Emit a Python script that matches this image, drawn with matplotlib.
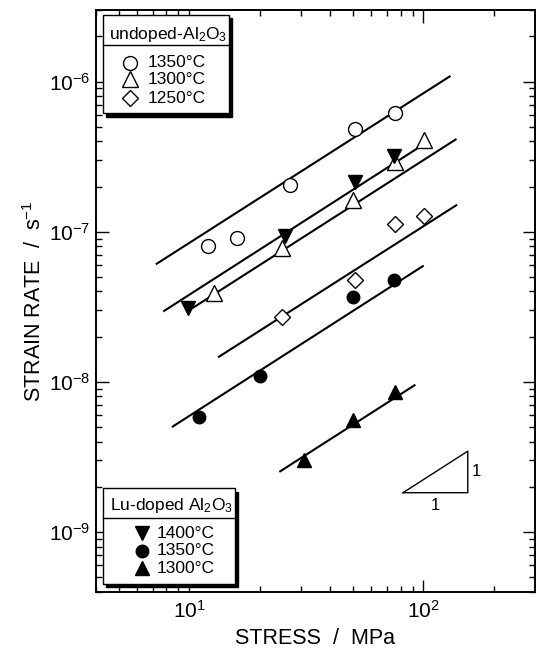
import numpy as np
import matplotlib.pyplot as plt
from matplotlib.patches import Rectangle
from matplotlib.ticker import NullFormatter

plt.rcParams['font.family'] = ['Liberation Sans', 'DejaVu Sans']
plt.rcParams['mathtext.fontset'] = 'custom'
plt.rcParams['mathtext.rm'] = 'Liberation Sans'
plt.rcParams['mathtext.it'] = 'Liberation Sans:italic'
plt.rcParams['mathtext.bf'] = 'Liberation Sans:bold'

# undoped Al2O3 (stress in MPa, strain rate in 1/s)
undoped_1350_stress = [12, 16, 27, 51, 76]
undoped_1350_rate = [8.0e-8, 9.1e-8, 2.05e-7, 4.8e-7, 6.2e-7]
undoped_1300_stress = [12.8, 25, 50, 76, 101]
undoped_1300_rate = [3.9e-8, 7.8e-8, 1.62e-7, 2.9e-7, 4.1e-7]
undoped_1250_stress = [25, 51, 76, 101]
undoped_1250_rate = [2.7e-8, 4.75e-8, 1.13e-7, 1.28e-7]

# Lu-doped Al2O3
lu_1400_stress = [9.9, 25.7, 51, 75]
lu_1400_rate = [3.1e-8, 9.3e-8, 2.15e-7, 3.2e-7]
lu_1350_stress = [11, 20, 50, 75]
lu_1350_rate = [5.85e-9, 1.1e-8, 3.7e-8, 4.75e-8]
lu_1300_stress = [31, 50, 75.6]
lu_1300_rate = [3.0e-9, 5.6e-9, 8.6e-9]

# fitted lines with stress exponent n = 1 (end points)
fit_stress = [[7.27, 129.6], [7.82, 95.5], [10.4, 137.5],
              [13.4, 138.4], [8.52, 99.6], [24.5, 91.8]]
fit_rate = [[6.12e-8, 1.08e-6], [2.97e-8, 3.63e-7], [3.12e-8, 4.11e-7],
            [1.47e-8, 1.50e-7], [5.05e-9, 5.9e-8], [2.54e-9, 9.5e-9]]

# slope triangle
tri_stress = [82, 155]
tri_rate = [1.83e-9, 3.46e-9]

fig = plt.figure(figsize=(5.36, 6.49), dpi=100)
ax = fig.add_axes([0.179, 0.088, 0.819, 0.8968])
ax.set_xscale('log')
ax.set_yscale('log')
ax.set_xlim(4, 300)
ax.set_ylim(4e-10, 3e-6)
ax.xaxis.set_minor_formatter(NullFormatter())
ax.yaxis.set_minor_formatter(NullFormatter())

for xs, ys in zip(fit_stress, fit_rate):
    ax.plot(xs, ys, color='black', lw=1.5, zorder=2)

open_kw = dict(ls='none', mfc='white', mec='black', mew=1.0, zorder=3)
fill_kw = dict(ls='none', mfc='black', mec='black', mew=1.0, zorder=3)
ax.plot(undoped_1350_stress, undoped_1350_rate, 'o', ms=10, **open_kw)
ax.plot(undoped_1300_stress, undoped_1300_rate, '^', ms=11.5, **open_kw)
ax.plot(undoped_1250_stress, undoped_1250_rate, 'D', ms=8.5, **open_kw)
ax.plot(lu_1400_stress, lu_1400_rate, 'v', ms=10.5, **fill_kw)
ax.plot(lu_1350_stress, lu_1350_rate, 'o', ms=9, **fill_kw)
ax.plot(lu_1300_stress, lu_1300_rate, '^', ms=10.5, **fill_kw)

# 1:1 slope triangle
ax.plot([tri_stress[0], tri_stress[1], tri_stress[1], tri_stress[0]],
        [tri_rate[0], tri_rate[0], tri_rate[1], tri_rate[0]],
        color='black', lw=1.0)
ax.annotate('1', (tri_stress[1], np.sqrt(tri_rate[0] * tri_rate[1])),
            xytext=(3, 0), textcoords='offset points', ha='left', va='center', fontsize=12)
ax.annotate('1', (np.sqrt(tri_stress[0] * tri_stress[1]), tri_rate[0]),
            xytext=(0, -4), textcoords='offset points', ha='center', va='top', fontsize=12)

ax.tick_params(which='both', direction='in', top=True, right=True, width=1.0)
ax.tick_params(which='major', length=9, labelsize=15, pad=4)
ax.tick_params(which='minor', length=4.5)
ax.tick_params(axis='x', which='major', pad=6)
for sp in ax.spines.values():
    sp.set_linewidth(1.4)

ax.set_xlabel('STRESS  /  MPa', fontsize=15.5, labelpad=4)
ax.set_ylabel(r'STRAIN RATE  /  s$^{-1}$', fontsize=15.5, labelpad=2)


def legend_box(x0, y0, x1, y1, ysep, title, tx, ty, keys, kx, lx, rows):
    # framed key with a title row and a dark drop shadow
    tr = ax.transAxes
    ax.add_patch(Rectangle((x0 + 0.007, y0 - 0.006), x1 - x0, y1 - y0, transform=tr,
                           facecolor='black', edgecolor='black', zorder=5, clip_on=False))
    ax.add_patch(Rectangle((x0, y0), x1 - x0, y1 - y0, transform=tr,
                           facecolor='white', edgecolor='black', lw=1.0, zorder=6, clip_on=False))
    ax.plot([x0, x1], [ysep, ysep], transform=tr, color='black', lw=1.0, zorder=7)
    ax.text(tx, ty, title, transform=tr, ha='center', va='center', fontsize=12.5, zorder=7)
    for (marker, ms, face, label), ry in zip(keys, rows):
        ax.plot([kx], [ry], marker, ms=ms, mfc=face, mec='black', mew=1.0,
                transform=tr, zorder=7, clip_on=False)
        ax.text(lx, ry, label, transform=tr, ha='left', va='center', fontsize=12.5, zorder=7)


legend_box(0.0166, 0.8222, 0.3037, 0.9914, 0.9399, r'undoped-Al$_2$O$_3$', 0.1647, 0.957,
           [('o', 10, 'white', '1350°C'), ('^', 11.5, 'white', '1300°C'), ('D', 8.5, 'white', '1250°C')],
           0.0774, 0.1185, [0.9089, 0.8809, 0.8483])
legend_box(0.0166, 0.0137, 0.3166, 0.178, 0.1266, r'Lu-doped Al$_2$O$_3$', 0.1724, 0.1483,
           [('v', 10.5, 'black', '1400°C'), ('o', 9, 'black', '1350°C'), ('^', 10.5, 'black', '1300°C')],
           0.104, 0.138, [0.1009, 0.0704, 0.0407])

fig.savefig('out.png', dpi=100)
